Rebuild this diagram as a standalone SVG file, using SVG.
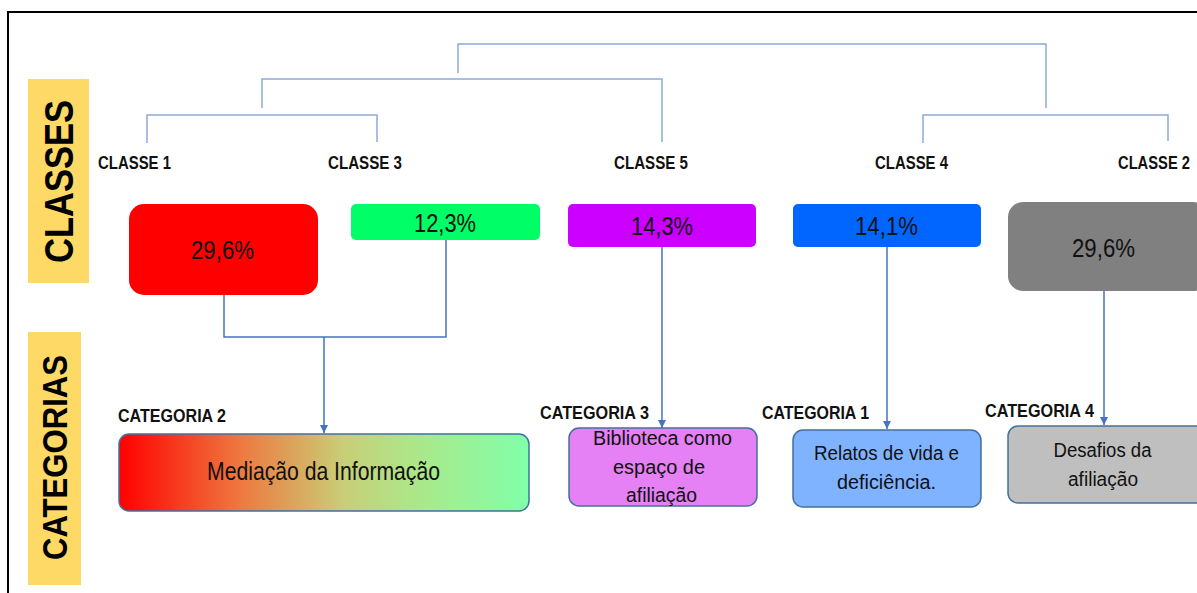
<svg xmlns="http://www.w3.org/2000/svg" width="1197" height="593" viewBox="0 0 1197 593">
<style>
.lbl{font-family:"Liberation Sans",Arial,sans-serif;font-weight:bold;font-size:19px;fill:#111}
.pct{font-family:"Liberation Sans",Arial,sans-serif;font-size:25px;fill:#111;text-anchor:middle}
.cat{font-family:"Liberation Sans",Arial,sans-serif;font-size:20px;fill:#111;text-anchor:middle}
.side{font-family:"Liberation Sans",Arial,sans-serif;font-weight:bold;fill:#000;text-anchor:middle}
.dendro{fill:none;stroke:#8EA9DB;stroke-width:1.5}
.conn{fill:none;stroke:#4472C4;stroke-width:1.5}
.cbox{stroke:#41719C;stroke-width:1.5}
</style>
<defs>
<marker id="arr" viewBox="0 0 10 10" refX="10" refY="5" markerWidth="8" markerHeight="8" markerUnits="userSpaceOnUse" orient="auto">
<path d="M0,0 L10,5 L0,10 z" fill="#4472C4"/>
</marker>
<linearGradient id="grad" x1="0" y1="0" x2="1" y2="0">
<stop offset="0" stop-color="#FF0000"/>
<stop offset="0.3" stop-color="#EE7A40"/>
<stop offset="0.55" stop-color="#C8CF78"/>
<stop offset="0.75" stop-color="#A8EA8C"/>
<stop offset="1" stop-color="#80FFAA"/>
</linearGradient>
</defs>
<rect width="1197" height="593" fill="#fff"/>
<path d="M8,593 V12 H1197" fill="none" stroke="#000" stroke-width="2"/>

<g id="side-classes">
<rect x="28" y="79" width="61" height="204" fill="#FFD966"/>
<text class="side" font-size="40" transform="translate(73,181.5) rotate(-90)" textLength="163" lengthAdjust="spacingAndGlyphs">CLASSES</text>
</g>
<g id="side-categorias">
<rect x="28" y="332" width="53" height="253" fill="#FFD966"/>
<text class="side" font-size="35" transform="translate(67,457.5) rotate(-90)" textLength="205" lengthAdjust="spacingAndGlyphs">CATEGORIAS</text>
</g>

<g id="connectors">
<path class="dendro" d="M458,73 V44 H1046 V108"/>
<path class="dendro" d="M262,108 V79 H662 V142"/>
<path class="dendro" d="M147,143 V115 H377 V142"/>
<path class="dendro" d="M923,143 V115 H1168 V141"/>
<path class="conn" d="M224,295 V337 H446 V240"/>
<path class="conn" d="M324,337 V433" marker-end="url(#arr)"/>
<path class="conn" d="M662,247 V428" marker-end="url(#arr)"/>
<path class="conn" d="M887,247 V429" marker-end="url(#arr)"/>
<path class="conn" d="M1104,291 V425" marker-end="url(#arr)"/>
</g>

<g id="classe1">
<text class="lbl" x="98" y="169" textLength="73" lengthAdjust="spacingAndGlyphs">CLASSE 1</text>
<rect x="129" y="204" width="189" height="91" rx="15" fill="#FF0000"/>
<text class="pct" x="222.5" y="259" textLength="63" lengthAdjust="spacingAndGlyphs">29,6%</text>
</g>
<g id="classe3">
<text class="lbl" x="328" y="169" textLength="74" lengthAdjust="spacingAndGlyphs">CLASSE 3</text>
<rect x="351" y="204" width="189" height="36" rx="5" fill="#00FF66"/>
<text class="pct" x="445" y="232" textLength="62" lengthAdjust="spacingAndGlyphs">12,3%</text>
</g>
<g id="classe5">
<text class="lbl" x="614" y="169" textLength="74" lengthAdjust="spacingAndGlyphs">CLASSE 5</text>
<rect x="568" y="204" width="188" height="43" rx="5" fill="#CC00FF"/>
<text class="pct" x="662" y="235" textLength="62" lengthAdjust="spacingAndGlyphs">14,3%</text>
</g>
<g id="classe4">
<text class="lbl" x="875" y="169" textLength="73" lengthAdjust="spacingAndGlyphs">CLASSE 4</text>
<rect x="793" y="204" width="188" height="43" rx="5" fill="#0066FF"/>
<text class="pct" x="886.5" y="235" textLength="63" lengthAdjust="spacingAndGlyphs">14,1%</text>
</g>
<g id="classe2">
<text class="lbl" x="1118" y="169" textLength="72" lengthAdjust="spacingAndGlyphs">CLASSE 2</text>
<rect x="1008" y="202" width="200" height="89" rx="15" fill="#808080"/>
<text class="pct" x="1103.5" y="257" textLength="63" lengthAdjust="spacingAndGlyphs">29,6%</text>
</g>

<g id="categoria2">
<text class="lbl" x="118" y="422" textLength="108" lengthAdjust="spacingAndGlyphs">CATEGORIA 2</text>
<rect class="cbox" x="119" y="434" width="410" height="77" rx="10" fill="url(#grad)"/>
<text class="pct" x="323.5" y="480" textLength="233" lengthAdjust="spacingAndGlyphs">Mediação da Informação</text>
</g>
<g id="categoria3">
<text class="lbl" x="540" y="419" textLength="109" lengthAdjust="spacingAndGlyphs">CATEGORIA 3</text>
<rect class="cbox" x="569" y="428" width="188" height="78" rx="10" fill="#E580F5"/>
<text class="cat" x="662.5" y="445" textLength="139" lengthAdjust="spacingAndGlyphs">Biblioteca como</text>
<text class="cat" x="659" y="474" textLength="92" lengthAdjust="spacingAndGlyphs">espaço de</text>
<text class="cat" x="661.5" y="502" textLength="71" lengthAdjust="spacingAndGlyphs">afiliação</text>
</g>
<g id="categoria1">
<text class="lbl" x="762" y="419" textLength="107" lengthAdjust="spacingAndGlyphs">CATEGORIA 1</text>
<rect class="cbox" x="793" y="430" width="188" height="77" rx="10" fill="#80B3FF"/>
<text class="cat" x="886.5" y="460" textLength="145" lengthAdjust="spacingAndGlyphs">Relatos de vida e</text>
<text class="cat" x="886.5" y="489" textLength="99" lengthAdjust="spacingAndGlyphs">deficiência.</text>
</g>
<g id="categoria4">
<text class="lbl" x="985" y="417" textLength="109" lengthAdjust="spacingAndGlyphs">CATEGORIA 4</text>
<rect class="cbox" x="1008" y="426" width="200" height="77" rx="10" fill="#BFBFBF"/>
<text class="cat" x="1102.5" y="457" textLength="98" lengthAdjust="spacingAndGlyphs">Desafios da</text>
<text class="cat" x="1103" y="486" textLength="70" lengthAdjust="spacingAndGlyphs">afiliação</text>
</g>
</svg>
